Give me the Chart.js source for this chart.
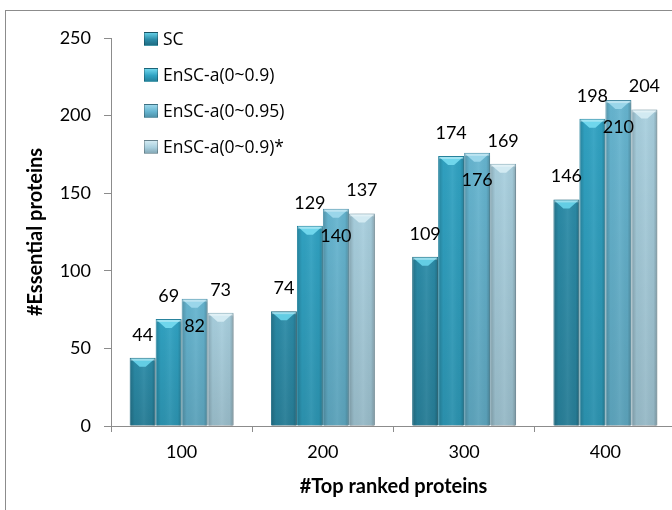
<!DOCTYPE html>
<html>
<head>
<meta charset="utf-8">
<script src="https://cdn.jsdelivr.net/npm/chart.js@4.4.1/dist/chart.umd.min.js"></script>
<style>
  html, body { margin: 0; padding: 0; background: #fff; }
  #wrap { position: relative; width: 672px; height: 510px; overflow: hidden; }
  #frame { position: absolute; left: 5px; top: 10px; width: 700px; height: 520px; border: 1px solid #8c8c8c; }
  #chart { position: absolute; left: 0; top: 0; }
  #legend { position: absolute; left: 144px; top: 27px; font-family: "Open Sans", sans-serif; font-size: 17.5px; color: #000; }
  #legend div { height: 36px; line-height: 22px; white-space: nowrap; }
  #legend span.box { display: inline-block; width: 12px; height: 12px; margin-right: 5px; vertical-align: -1px; border: 1px solid rgba(0,0,0,0.25); }
</style>
</head>
<body>
<div id="wrap">
  <div id="frame"></div>
  <canvas id="chart" width="690" height="510"></canvas>
  <div id="legend"></div>
</div>
<script>
const categories = ['100', '200', '300', '400'];
const seriesNames = ['SC', 'EnSC-a(0~0.9)', 'EnSC-a(0~0.95)', 'EnSC-a(0~0.9)*'];
const scValues = [44, 74, 109, 146];
const ensc09Values = [69, 129, 174, 198];
const ensc095Values = [82, 140, 176, 210];
const ensc09StarValues = [73, 137, 169, 204];
const yTicks = [0, 50, 100, 150, 200, 250];

const fills = ['#2b8ba7', '#30a2c2', '#66b5d0', '#a8cfde'];
const edges = ['#1f6c83', '#24839e', '#4f93ab', '#85a9b7'];
const tops = ['#63cde4', '#6fd6ec', '#9ad6ea', '#d2eaf2'];

const seriesValues = [scValues, ensc09Values, ensc095Values, ensc09StarValues];

// the third series prints its number just inside the bar top
const labelInside = [false, false, true, false];

const labelFont = '18px Lato, sans-serif';

const barStyle = {
  id: 'barStyle',
  beforeDatasetsDraw(chart) {
    const ctx = chart.ctx;
    ctx.save();
    ctx.shadowColor = 'rgba(0,0,0,0.28)';
    ctx.shadowOffsetX = 2;
    ctx.shadowOffsetY = 1;
    ctx.shadowBlur = 3;
  },
  afterDatasetsDraw(chart) {
    const ctx = chart.ctx;
    ctx.restore();
    const bottom = chart.chartArea.bottom;
    chart.data.datasets.forEach((ds, i) => {
      chart.getDatasetMeta(i).data.forEach((bar, j) => {
        const left = bar.x - bar.width / 2;
        const right = bar.x + bar.width / 2;
        const top = bar.y;
        // side shading
        const g = ctx.createLinearGradient(left, 0, right, 0);
        g.addColorStop(0, 'rgba(0,0,0,0.2)');
        g.addColorStop(0.2, 'rgba(0,0,0,0.02)');
        g.addColorStop(0.55, 'rgba(255,255,255,0.06)');
        g.addColorStop(0.85, 'rgba(0,0,0,0.03)');
        g.addColorStop(1, 'rgba(0,0,0,0.22)');
        ctx.fillStyle = g;
        ctx.fillRect(left + 1, top + 1, bar.width - 2, bottom - top - 1);
        const v = ctx.createLinearGradient(0, top, 0, bottom);
        v.addColorStop(0, 'rgba(0,0,0,0)');
        v.addColorStop(1, 'rgba(0,0,0,0.1)');
        ctx.fillStyle = v;
        ctx.fillRect(left + 1, top + 1, bar.width - 2, bottom - top - 1);
        // bevelled top
        ctx.beginPath();
        ctx.moveTo(left + 1, top + 1);
        ctx.lineTo(right - 1, top + 1);
        ctx.lineTo(bar.x + 3, top + 9);
        ctx.lineTo(bar.x - 3, top + 9);
        ctx.closePath();
        ctx.fillStyle = tops[i];
        ctx.fill();
        ctx.fillStyle = 'rgba(255,255,255,0.35)';
        ctx.fillRect(left + 1, top + 1, bar.width - 2, 2);
      });
    });
    // value labels
    ctx.save();
    ctx.font = labelFont;
    ctx.fillStyle = '#000';
    ctx.textAlign = 'center';
    ctx.textBaseline = 'middle';
    chart.data.datasets.forEach((ds, i) => {
      chart.getDatasetMeta(i).data.forEach((bar, j) => {
        const y = labelInside[i] ? bar.y + 27 : bar.y - 23;
        ctx.fillText(String(ds.data[j]), bar.x, y);
      });
    });
    ctx.restore();
  }
};

const datasets = seriesNames.map((name, i) => ({
  label: name,
  data: seriesValues[i],
  backgroundColor: fills[i],
  borderColor: edges[i],
  borderWidth: 1,
  categoryPercentage: 0.736,
  barPercentage: 1
}));

new Chart(document.getElementById('chart'), {
  type: 'bar',
  data: { labels: categories, datasets: datasets },
  options: {
    responsive: false,
    animation: false,
    events: [],
    layout: { padding: { left: 0, top: 38, right: 14, bottom: 0 } },
    plugins: {
      legend: { display: false },
      tooltip: { enabled: false }
    },
    scales: {
      x: {
        afterFit(scale) { scale.height = 84; },
        grid: { drawOnChartArea: false, tickLength: 6, color: '#8c8c8c', offset: true },
        border: { color: '#8c8c8c' },
        ticks: { color: '#000', font: { family: 'Lato', size: 18 }, padding: 9 },
        title: {
          display: true,
          text: '#Top ranked proteins',
          color: '#000',
          font: { family: 'Lato', size: 20, weight: 'bold' },
          padding: { top: 0, bottom: 11 }
        }
      },
      y: {
        min: 0,
        max: 250,
        afterFit(scale) { scale.width = 111; },
        afterBuildTicks(scale) { scale.ticks = yTicks.map(v => ({ value: v })); },
        grid: { drawOnChartArea: false, tickLength: 7, color: '#8c8c8c' },
        border: { color: '#8c8c8c' },
        ticks: { color: '#000', font: { family: 'Lato', size: 18 }, padding: 13 },
        title: {
          display: true,
          text: '#Essential proteins',
          color: '#000',
          font: { family: 'Lato', size: 20, weight: 'bold' },
          padding: { top: 24, bottom: 0 }
        }
      }
    }
  },
  plugins: [barStyle]
});

// legend list built from the series names and colours
const legend = document.getElementById('legend');
seriesNames.forEach((name, i) => {
  const row = document.createElement('div');
  const box = document.createElement('span');
  box.className = 'box';
  box.style.background = 'linear-gradient(180deg, ' + tops[i] + ' 0%, ' + fills[i] + ' 55%, ' + edges[i] + ' 100%)';
  row.appendChild(box);
  row.appendChild(document.createTextNode(name));
  legend.appendChild(row);
});
</script>
</body>
</html>
